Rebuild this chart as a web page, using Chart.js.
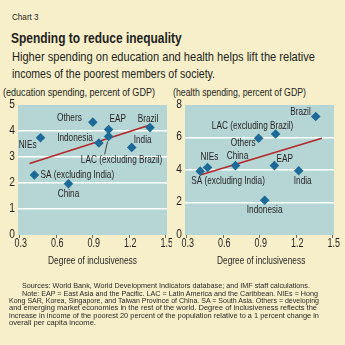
<!DOCTYPE html>
<html><head><meta charset="utf-8">
<script src="https://cdn.jsdelivr.net/npm/chart.js@4.4.1/dist/chart.umd.min.js"></script>
<style>
html,body{margin:0;padding:0;}
body{width:345px;height:345px;background:#f7efca;position:relative;overflow:hidden;font-family:"Liberation Sans",Arial,sans-serif;color:#231f20;}
.t{position:absolute;white-space:nowrap;transform-origin:0 0;}
canvas{position:absolute;}
</style></head><body>
<div class="t" data-w="26.6" style="left:12px;top:11px;font-size:9.5px;">Chart 3</div>
<div class="t" data-w="170.7" style="left:11px;top:29px;font-size:15px;font-weight:bold;">Spending to reduce inequality</div>
<div class="t" data-w="303" style="left:11.5px;top:49px;font-size:13px;">Higher spending on education and health helps lift the relative</div>
<div class="t" data-w="203" style="left:11.5px;top:66px;font-size:13px;">incomes of the poorest members of society.</div>
<div class="t" data-w="152" style="left:3px;top:86px;font-size:10.5px;">(education spending, percent of GDP)</div>
<div class="t" data-w="133" style="left:173px;top:86px;font-size:10.5px;">(health spending, percent of GDP)</div>
<canvas id="p1" width="172" height="172" style="left:0;top:98px;"></canvas>
<canvas id="p2" width="173" height="172" style="left:172px;top:98px;"></canvas>
<div class="t" data-w="89" style="left:48.3px;top:254px;font-size:11.5px;">Degree of inclusiveness</div>
<div class="t" data-w="88.3" style="left:216.7px;top:254px;font-size:11.5px;">Degree of inclusiveness</div>
<div class="t" data-w="288" style="left:22px;top:281px;font-size:7.6px;">Sources: World Bank, World Development Indicators database; and IMF staff calculations.</div>
<div class="t" data-w="296" style="left:22px;top:288.5px;font-size:7.6px;">Note: EAP = East Asia and the Pacific. LAC = Latin America and the Caribbean. NIEs = Hong</div>
<div class="t" data-w="310" style="left:9px;top:296px;font-size:7.6px;">Kong SAR, Korea, Singapore, and Taiwan Province of China. SA = South Asia. Others = developing</div>
<div class="t" data-w="308" style="left:9px;top:303.3px;font-size:7.6px;">and emerging market economies in the rest of the world. Degree of inclusiveness reflects the</div>
<div class="t" data-w="310" style="left:9px;top:310.6px;font-size:7.6px;">increase in income of the poorest 20 percent of the population relative to a 1 percent change in</div>
<div class="t" data-w="87" style="left:9px;top:318px;font-size:7.6px;">overall per capita income.</div>
<script>
// ---- data ----
const regions = ["Others","EAP","Brazil","NIEs","Indonesia","LAC (excluding Brazil)","India","SA (excluding India)","China"];
const inclusiveness = [0.90,1.03,1.37,0.47,0.95,1.03,1.22,0.42,0.70];
const inclusivenessHealth = [0.89,1.02,1.36,0.47,0.94,1.03,1.22,0.41,0.70];
const educationSpending = [4.34,4.06,4.13,3.74,3.54,3.79,3.37,2.31,1.97];
const healthSpending = [5.95,4.27,7.29,4.15,2.14,6.22,3.95,3.93,4.27];
const eduTrendX = [0.38,1.37];
const eduTrendY = [2.75,4.23];
const healthTrendX = [0.41,1.41];
const healthTrendY = [3.69,5.95];
const xTicks = [0.3,0.6,0.9,1.2,1.5];
const eduTicks = [0,1,2,3,4,5];
const healthTicks = [0,2,4,6,8];

// condense HTML text to the reference widths
document.querySelectorAll('.t[data-w]').forEach(el=>{
  const w = el.getBoundingClientRect().width;
  const k = parseFloat(el.dataset.w)/w;
  el.style.transform = 'scaleX(' + k + ')';
});

// ---- styles ----
const FONT = '"Liberation Sans",Arial,sans-serif';
const TXT = '#231f20';
const LABEL_FONT = '10.5px ' + FONT;
const TICK_FONT = '12px ' + FONT;
const CONDENSE = (function(){
  const c = document.createElement('canvas').getContext('2d');
  c.font = LABEL_FONT;
  return 81.5 / c.measureText("LAC (excluding Brazil)").width;
})();
// label placement: [dx, dy, align]
const eduLabelPos = {
  "Others":[-11,-4,'right'], "EAP":[1,-10,'left'], "Brazil":[-2,-9,'center'],
  "NIEs":[-4,7,'right'], "Indonesia":[-6,-5,'right'], "LAC (excluding Brazil)":[13,24,'center'],
  "India":[2,-7,'left'], "SA (excluding India)":[6,0,'left'], "China":[0,10,'center']
};
const healthLabelPos = {
  "Others":[-3,5,'right'], "EAP":[2,-7,'left'], "Brazil":[-5,-4,'right'],
  "NIEs":[2,-10,'center'], "Indonesia":[0,10,'center'], "LAC (excluding Brazil)":[-23,-8,'center'],
  "India":[4,10,'center'], "SA (excluding India)":[-9,10,'left'], "China":[2,-10,'center']
};

function condensedText(c, txt, x, y, align, k){
  c.save(); c.translate(x, y); c.scale(k, 1); c.textAlign = align; c.fillText(txt, 0, 0); c.restore();
}

const bgPlugin = {
  id:'bg',
  beforeDraw(chart){
    const a = chart.chartArea, c = chart.ctx;
    c.save(); c.fillStyle = '#b5d6d4'; c.fillRect(a.left, a.top, a.right-a.left, a.bottom-a.top); c.restore();
  }
};
function labelPlugin(pos, leader, yTickRight){
  return {
    id:'labels',
    afterDraw(chart){
      const c = chart.ctx, meta = chart.getDatasetMeta(1);
      c.save();
      c.fillStyle = TXT; c.textBaseline = 'middle';
      // tick labels, positioned by the library's scales
      c.font = TICK_FONT;
      const xs = chart.scales.x, ys = chart.scales.y;
      xs.ticks.forEach(t=>{
        condensedText(c, Number(t.value).toFixed(1), xs.getPixelForValue(t.value)+1, chart.chartArea.bottom+8.5, 'center', 0.75);
      });
      ys.ticks.forEach(t=>{
        condensedText(c, String(t.value), yTickRight, ys.getPixelForValue(t.value)-0.5, 'right', 0.85);
      });
      // point labels
      c.font = LABEL_FONT;
      meta.data.forEach((el,i)=>{
        const p = pos[regions[i]];
        condensedText(c, regions[i], el.x + p[0], el.y + p[1], p[2], CONDENSE);
        if (leader && regions[i]===leader){
          c.strokeStyle = TXT; c.lineWidth = 0.8;
          c.beginPath(); c.moveTo(el.x-1, el.y+5); c.lineTo(el.x-4, el.y+18); c.stroke();
        }
      });
      c.restore();
    }
  };
}

function makeChart(id, xs, ys, tx, ty, yTicks, yMax, yWidth, padRight, pos, leader){
  const pts = xs.map((x,i)=>({x:x, y:ys[i]}));
  const trend = tx.map((x,i)=>({x:x, y:ty[i]}));
  new Chart(document.getElementById(id), {
    type:'scatter',
    data:{datasets:[
      {type:'line', data:trend, borderColor:'#b2272b', borderWidth:1.5, pointRadius:0, showLine:true, order:1},
      {data:pts, pointStyle:'rectRot', pointRadius:4.8, backgroundColor:'#1d6a98', borderWidth:0, order:0}
    ]},
    options:{
      responsive:false, animation:false, devicePixelRatio:1,
      layout:{padding:{top:7, right:padRight, left:0, bottom:0}},
      plugins:{legend:{display:false}, tooltip:{enabled:false}},
      scales:{
        x:{type:'linear', min:0.285, max:1.51,
          afterBuildTicks:s=>{ s.ticks = xTicks.map(v=>({value:v})); },
          ticks:{display:false},
          grid:{drawOnChartArea:false, drawTicks:true, tickLength:3, color:'#6b6b6b', lineWidth:1},
          border:{display:false},
          afterFit:s=>{ s.height = 35; }
        },
        y:{type:'linear', min:0, max:yMax,
          afterBuildTicks:s=>{ s.ticks = yTicks.map(v=>({value:v})); },
          ticks:{display:false},
          grid:{drawTicks:false, lineWidth:1.5, color:c=>(c.tick && (c.tick.value===0 || c.tick.value===yMax)) ? 'rgba(0,0,0,0)' : '#ffffff'},
          border:{display:false},
          afterFit:s=>{ s.width = yWidth; }
        }
      }
    },
    plugins:[bgPlugin, labelPlugin(pos, leader, yWidth-3)]
  });
}
makeChart('p1', inclusiveness, educationSpending, eduTrendX, eduTrendY, eduTicks, 5, 18, 5, eduLabelPos, "LAC (excluding Brazil)");
makeChart('p2', inclusivenessHealth, healthSpending, healthTrendX, healthTrendY, healthTicks, 8, 13, 11, healthLabelPos, null);
</script>
</body></html>
